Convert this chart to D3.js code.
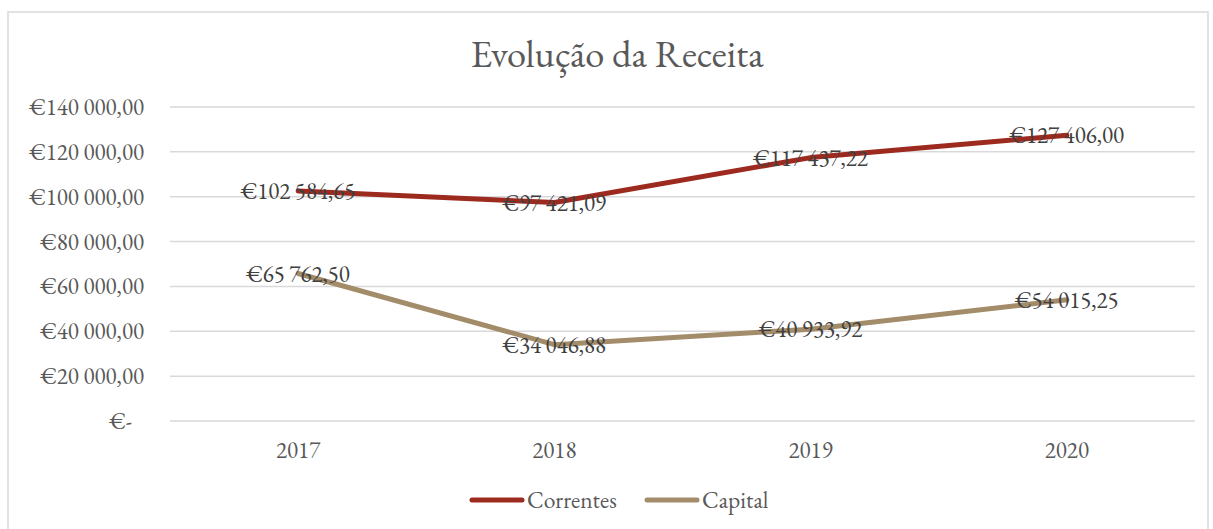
<!DOCTYPE html>
<html>
<head>
<meta charset="utf-8">
<script src="https://cdn.jsdelivr.net/npm/d3@7"></script>
<style>
  body { margin: 0; background: #fff; }
  svg text { font-family: Garamond, "EB Garamond", "Liberation Serif", "DejaVu Serif", serif; fill: #595959; }
</style>
</head>
<body>
<svg id="chart" width="1213" height="529"></svg>
<script>
var years = ["2017", "2018", "2019", "2020"];
var correntes = [102584.65, 97421.09, 117437.22, 127406.00];
var capital = [65762.50, 34046.88, 40933.92, 54015.25];
var yTicks = [0, 20000, 40000, 60000, 80000, 100000, 120000, 140000];
var seriesNames = ["Correntes", "Capital"];
var seriesColors = ["#9d2a1f", "#a38c69"];

var svg = d3.select("#chart");
var margin = {left: 170, right: 1195, top: 107, bottom: 421};

// frame
svg.append("rect")
  .attr("x", 8).attr("y", 12)
  .attr("width", 1200).attr("height", 530)
  .attr("fill", "white")
  .attr("stroke", "#d9d9d9")
  .attr("stroke-width", 1.5);

svg.append("text")
  .attr("x", 617).attr("y", 67)
  .attr("text-anchor", "middle")
  .style("font-size", "38.5px")
  .text("Evolução da Receita");

var x = d3.scaleBand().domain(years).range([margin.left, margin.right]);
var y = d3.scaleLinear().domain([0, 140000]).range([margin.bottom, margin.top]);

function fmt(v) {
  if (v === 0) return "€-";
  var parts = v.toFixed(2).split(".");
  var intPart = parts[0].replace(/\B(?=(\d{3})+(?!\d))/g, " ");
  return "€" + intPart + "," + parts[1];
}

// gridlines
svg.append("g").selectAll("line")
  .data(yTicks)
  .join("line")
  .attr("x1", margin.left).attr("x2", margin.right)
  .attr("y1", d => y(d)).attr("y2", d => y(d))
  .attr("stroke", "#d9d9d9")
  .attr("stroke-width", 1.5);

// y labels
svg.append("g").selectAll("text")
  .data(yTicks)
  .join("text")
  .attr("x", d => d === 0 ? 132 : 144)
  .attr("y", d => y(d))
  .attr("dy", "0.35em")
  .attr("text-anchor", "end")
  .style("font-size", "23px")
  .text(fmt);

// x labels
svg.append("g").selectAll("text")
  .data(years)
  .join("text")
  .attr("x", d => x(d) + x.bandwidth() / 2)
  .attr("y", 450)
  .attr("dy", "0.35em")
  .attr("text-anchor", "middle")
  .style("font-size", "23px")
  .text(d => d);

var series = [correntes, capital];
var line = d3.line()
  .x((d, i) => x(years[i]) + x.bandwidth() / 2)
  .y(d => y(d));

series.forEach((vals, s) => {
  svg.append("path")
    .datum(vals)
    .attr("d", line)
    .attr("fill", "none")
    .attr("stroke", seriesColors[s])
    .attr("stroke-width", 5)
    .attr("stroke-linecap", "round")
    .attr("stroke-linejoin", "round");
});

series.forEach((vals, s) => {
  svg.append("g").selectAll("text")
    .data(vals)
    .join("text")
    .attr("x", (d, i) => x(years[i]) + x.bandwidth() / 2)
    .attr("y", d => y(d))
    .attr("dy", "0.35em")
    .attr("text-anchor", "middle")
    .style("font-size", "23px")
    .style("fill", "#404040")
    .text(fmt);
});

// legend
var legendX = [470, 645];
seriesNames.forEach((name, s) => {
  var g = svg.append("g");
  g.append("line")
    .attr("x1", legendX[s] + 2).attr("x2", legendX[s] + 52)
    .attr("y1", 500).attr("y2", 500)
    .attr("stroke", seriesColors[s])
    .attr("stroke-width", 5)
    .attr("stroke-linecap", "round");
  g.append("text")
    .attr("x", legendX[s] + 57)
    .attr("y", 500)
    .attr("dy", "0.35em")
    .style("font-size", "23.5px")
    .text(name);
});
</script>
</body>
</html>
